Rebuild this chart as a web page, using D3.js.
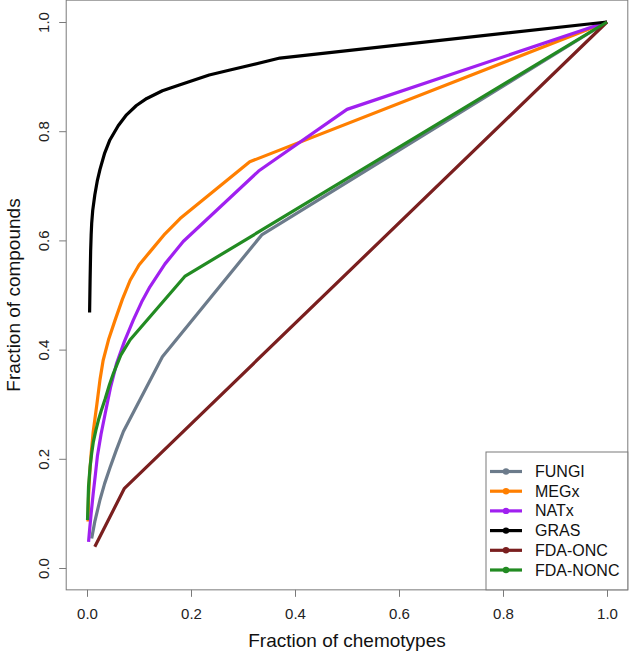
<!DOCTYPE html>
<html>
<head>
<meta charset="utf-8">
<script src="https://cdn.jsdelivr.net/npm/d3@7"></script>
<style>
  html, body { margin: 0; padding: 0; background: #fff; }
  svg { display: block; font-family: "Liberation Sans", Arial, Helvetica, sans-serif; }
</style>
</head>
<body>
<svg id="chart" width="630" height="657"></svg>
<script>
// ---- data ----
const seriesNames = ["FUNGI", "MEGx", "NATx", "GRAS", "FDA-ONC", "FDA-NONC"];
const seriesColors = ["#6C7B8B", "#FF7F00", "#A020F0", "#000000", "#7A1F1F", "#228B22"];

const fungiX = [0.009, 0.015, 0.025, 0.034, 0.044, 0.056, 0.070, 0.145, 0.336, 1.0];
const fungiY = [0.054, 0.085, 0.125, 0.155, 0.183, 0.215, 0.250, 0.387, 0.610, 1.0];

const megxX = [0.002, 0.003, 0.005, 0.008, 0.012, 0.019, 0.025, 0.031, 0.042, 0.054, 0.068, 0.083, 0.100, 0.121, 0.150, 0.179, 0.313, 1.0];
const megxY = [0.085, 0.130, 0.170, 0.210, 0.250, 0.300, 0.345, 0.380, 0.420, 0.454, 0.492, 0.527, 0.555, 0.579, 0.612, 0.640, 0.744, 1.0];

const natxX = [0.003, 0.005, 0.008, 0.012, 0.016, 0.020, 0.027, 0.035, 0.045, 0.057, 0.072, 0.089, 0.105, 0.121, 0.150, 0.185, 0.330, 0.500, 1.0];
const natxY = [0.048, 0.070, 0.100, 0.137, 0.170, 0.205, 0.245, 0.283, 0.330, 0.375, 0.415, 0.454, 0.487, 0.515, 0.557, 0.598, 0.727, 0.840, 1.0];

const grasX = [0.005, 0.006, 0.007, 0.008, 0.009, 0.011, 0.015, 0.020, 0.025, 0.034, 0.044, 0.060, 0.076, 0.095, 0.115, 0.145, 0.179, 0.235, 0.275, 0.371, 1.0];
const grasY = [0.468, 0.530, 0.580, 0.610, 0.631, 0.655, 0.683, 0.710, 0.730, 0.760, 0.784, 0.810, 0.830, 0.847, 0.860, 0.874, 0.885, 0.903, 0.912, 0.934, 1.0];

const fdaOncX = [0.015, 0.072, 1.0];
const fdaOncY = [0.039, 0.146, 1.0];

const fdaNoncX = [0.001, 0.002, 0.003, 0.006, 0.009, 0.012, 0.017, 0.022, 0.028, 0.035, 0.043, 0.051, 0.065, 0.083, 0.188, 1.0];
const fdaNoncY = [0.088, 0.120, 0.150, 0.186, 0.210, 0.230, 0.252, 0.271, 0.290, 0.310, 0.335, 0.357, 0.390, 0.418, 0.534, 1.0];

const xTicks = [0, 0.2, 0.4, 0.6, 0.8, 1.0];
const yTicks = [0, 0.2, 0.4, 0.6, 0.8, 1.0];
const xTitle = "Fraction of chemotypes";
const yTitle = "Fraction of compounds";

const seriesX = [fungiX, megxX, natxX, grasX, fdaOncX, fdaNoncX];
const seriesY = [fungiY, megxY, natxY, grasY, fdaOncY, fdaNoncY];

// ---- layout ----
const svg = d3.select("#chart");
const x = d3.scaleLinear().domain([0, 1]).range([87, 607]);
const y = d3.scaleLinear().domain([0, 1]).range([568, 22]);
const pad = 0.04;
const boxL = x(-pad), boxR = x(1 + pad), boxT = y(1 + pad), boxB = y(-pad);
const frameColor = "#7a7a7a";

// plot box
svg.append("rect")
  .attr("x", boxL).attr("y", boxT)
  .attr("width", boxR - boxL).attr("height", boxB - boxT)
  .attr("fill", "none").attr("stroke", frameColor).attr("stroke-width", 1);

// x axis
const gx = svg.append("g").attr("transform", `translate(0,${boxB})`)
  .call(d3.axisBottom(x).tickValues(xTicks).tickSize(7).tickPadding(12).tickFormat(d3.format(".1f")));
gx.select(".domain").remove();
gx.selectAll(".tick line").attr("stroke", frameColor);
gx.selectAll(".tick text").attr("fill", "#222").style("font-size", "15px");

// y axis
const gy = svg.append("g").attr("transform", `translate(${boxL},0)`)
  .call(d3.axisLeft(y).tickValues(yTicks).tickSize(7).tickFormat(d3.format(".1f")));
gy.select(".domain").remove();
gy.selectAll(".tick line").attr("stroke", frameColor);
gy.selectAll(".tick text")
  .attr("fill", "#222").style("font-size", "15px")
  .attr("x", null).attr("dy", null)
  .attr("text-anchor", "middle")
  .attr("transform", "translate(-21,0) rotate(-90)")
  .attr("dominant-baseline", "middle");

// axis titles
svg.append("text")
  .attr("x", (boxL + boxR) / 2).attr("y", 647)
  .attr("text-anchor", "middle").style("font-size", "19px").attr("fill", "#111")
  .text(xTitle);
svg.append("text")
  .attr("transform", `translate(20,${(boxT + boxB) / 2}) rotate(-90)`)
  .attr("text-anchor", "middle").style("font-size", "19px").attr("fill", "#111")
  .text(yTitle);

// series lines
const line = d3.line().x(d => x(d[0])).y(d => y(d[1]));
seriesNames.forEach((name, i) => {
  const pts = seriesX[i].map((v, j) => [v, seriesY[i][j]]);
  svg.append("path")
    .datum(pts)
    .attr("d", line)
    .attr("fill", "none")
    .attr("stroke", seriesColors[i])
    .attr("stroke-width", 3.2)
    .attr("stroke-linejoin", "round")
    .attr("stroke-linecap", "butt");
});

// legend
const legL = 486, legT = 452;
svg.append("rect")
  .attr("x", legL).attr("y", legT)
  .attr("width", boxR - legL).attr("height", boxB - legT)
  .attr("fill", "#fff").attr("stroke", frameColor).attr("stroke-width", 1);
const lg = svg.append("g");
seriesNames.forEach((name, i) => {
  const cy = 471.5 + i * 19.7;
  lg.append("line")
    .attr("x1", 490).attr("x2", 522).attr("y1", cy).attr("y2", cy)
    .attr("stroke", seriesColors[i]).attr("stroke-width", 3.2);
  lg.append("circle")
    .attr("cx", 506).attr("cy", cy).attr("r", 3.2)
    .attr("fill", seriesColors[i]);
  lg.append("text")
    .attr("x", 535).attr("y", cy)
    .attr("dominant-baseline", "central")
    .style("font-size", "16px").attr("fill", "#111")
    .text(name);
});
</script>
</body>
</html>
